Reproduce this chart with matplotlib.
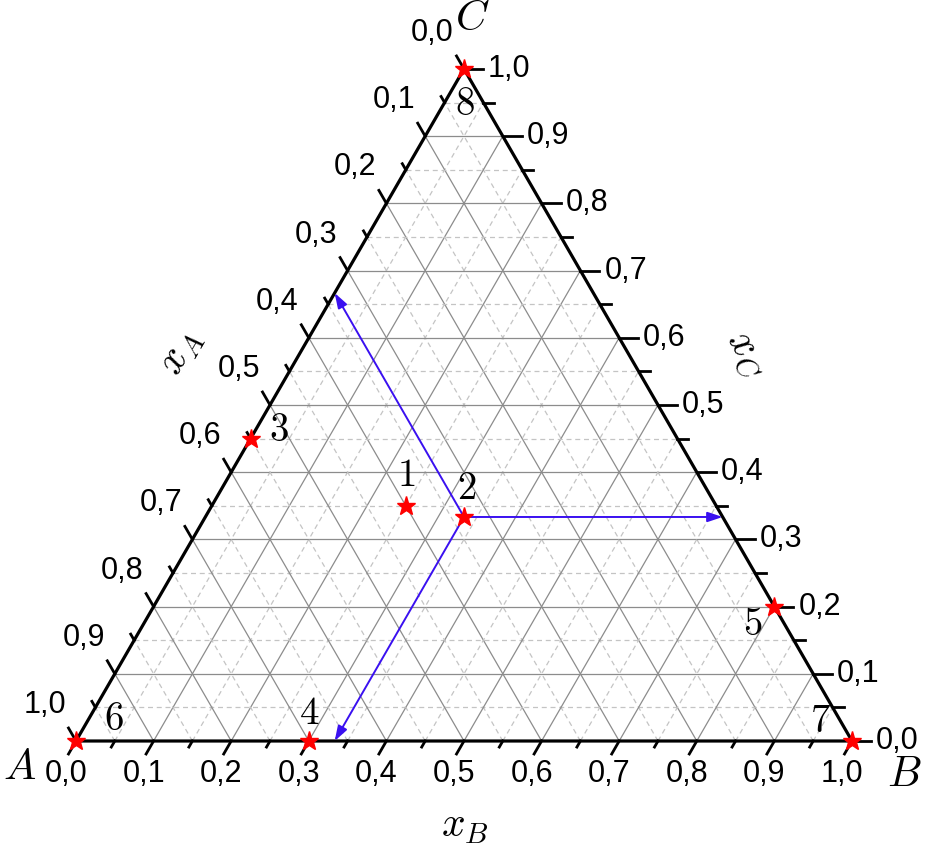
import numpy as np
import matplotlib
matplotlib.use("Agg")
import matplotlib.pyplot as plt

plt.rcParams['mathtext.fontset'] = 'cm'
plt.rcParams['font.family'] = ['Liberation Sans', 'DejaVu Sans']

# ternary points (xA, xB, xC)
pt_a = [0.40, 1/3, 0.55, 0.70, 0.00, 1.00, 0.00, 0.00]
pt_b = [0.25, 1/3, 0.00, 0.30, 0.80, 0.00, 1.00, 0.00]
pt_c = [0.35, 1/3, 0.45, 0.00, 0.20, 0.00, 0.00, 1.00]
pt_names = ['1', '2', '3', '4', '5', '6', '7', '8']

# arrows from point 2 to the three sides
arrow_start = (1/3, 1/3, 1/3)
arrow_ends = [(1/3, 0.0, 2/3), (0.0, 2/3, 1/3), (2/3, 1/3, 0.0)]

tick_vals = [i / 10 for i in range(11)]
tick_text = ['%.1f' % v for v in tick_vals]
tick_text = [t.replace('.', ',') for t in tick_text]

H = np.sqrt(3) / 2
PX = 1 / 776.0  # one pixel in data units


def tern(a, b, c):
    a, b, c = np.asarray(a), np.asarray(b), np.asarray(c)
    return b + c / 2, c * H


fig = plt.figure(figsize=(9.27, 8.47), dpi=100)
ax = fig.add_axes([0, 0, 1, 1])
ax.set_xlim(-76 * PX, 851 * PX)
ax.set_ylim(-106 * PX, 741 * PX)
ax.axis('off')

# grid: solid at 0.1, dashed at 0.05
for k in range(1, 20):
    v = k / 20
    if k % 2 == 0:
        kw = dict(color='#8c8c8c', lw=0.9, ls='-')
    else:
        kw = dict(color='#c4c4c4', lw=0.9, ls=(0, (4, 3)))
    # constant C (horizontal)
    x, y = tern([1 - v, 0], [0, 1 - v], [v, v])
    ax.plot(x, y, zorder=1, **kw)
    # constant A
    x, y = tern([v, v], [1 - v, 0], [0, 1 - v])
    ax.plot(x, y, zorder=1, **kw)
    # constant B
    x, y = tern([1 - v, 0], [v, v], [0, 1 - v])
    ax.plot(x, y, zorder=1, **kw)

# triangle frame
x, y = tern([1, 0, 0, 1], [0, 1, 0, 0], [0, 0, 1, 0])
ax.plot(x, y, color='black', lw=2.3, zorder=3, solid_joinstyle='miter')

# ticks
d_left = np.array([-0.5, H])
d_bot = np.array([-0.5, -H])
d_right = np.array([1.0, 0.0])
for k in range(21):
    v = k / 20
    ln = (15 if k % 2 == 0 else 7) * PX
    # left axis (xA)
    x0, y0 = tern(v, 0, 1 - v)
    ax.plot([x0, x0 + d_left[0] * ln], [y0, y0 + d_left[1] * ln], color='black', lw=2, zorder=3)
    # bottom axis (xB)
    x0, y0 = tern(1 - v, v, 0)
    ax.plot([x0, x0 + d_bot[0] * ln], [y0, y0 + d_bot[1] * ln], color='black', lw=2, zorder=3)
    # right axis (xC)
    x0, y0 = tern(0, 1 - v, v)
    ax.plot([x0, x0 + d_right[0] * (ln + 4 * PX)], [y0, y0], color='black', lw=2, zorder=3)

fs = 22
for v, t in zip(tick_vals, tick_text):
    x0, y0 = tern(v, 0, 1 - v)
    ax.text(x0 - 10 * PX, y0 + 36 * PX, t, ha='right', va='center', fontsize=fs)
    x0, y0 = tern(1 - v, v, 0)
    ax.text(x0 - 10 * PX, y0 - 33 * PX, t, ha='center', va='center', fontsize=fs)
    x0, y0 = tern(0, 1 - v, v)
    ax.text(x0 + 24 * PX, y0, t, ha='left', va='center', fontsize=fs)

# arrows
sx, sy = tern(*arrow_start)
for e in arrow_ends:
    ex, ey = tern(*e)
    ax.annotate('', xy=(ex, ey), xytext=(sx, sy),
                arrowprops=dict(arrowstyle='-|>,head_length=0.9,head_width=0.3',
                                color='#3a10f0', lw=1.4, shrinkA=0, shrinkB=0),
                zorder=4)

# points
px, py = tern(pt_a, pt_b, pt_c)
ax.plot(px, py, ls='none', marker='*', ms=14, color='red', mec='red', zorder=5, clip_on=False)

name_off = [(0, 30), (3, 28), (28, 8), (0, 27), (-22, -18), (38, 21), (-32, 19), (1, -36)]
for x0, y0, n, (dx, dy) in zip(px, py, pt_names, name_off):
    ax.text(x0 + dx * PX, y0 + dy * PX, '$%s$' % n, ha='center', va='center', fontsize=28, zorder=6)

# vertex labels and axis titles
ax.text(-56 * PX, -27 * PX, '$A$', ha='center', va='center', fontsize=31)
ax.text(828 * PX, -34 * PX, '$B$', ha='center', va='center', fontsize=31)
ax.text(396 * PX, 722 * PX, '$C$', ha='center', va='center', fontsize=31)
ax.text(104 * PX, 389 * PX, '$x_A$', ha='center', va='center', fontsize=30, rotation=60)
ax.text(670 * PX, 386 * PX, '$x_C$', ha='center', va='center', fontsize=30, rotation=-60)
ax.text(389 * PX, -85 * PX, '$x_B$', ha='center', va='center', fontsize=30)

fig.savefig('out.png', dpi=100, facecolor='white')
